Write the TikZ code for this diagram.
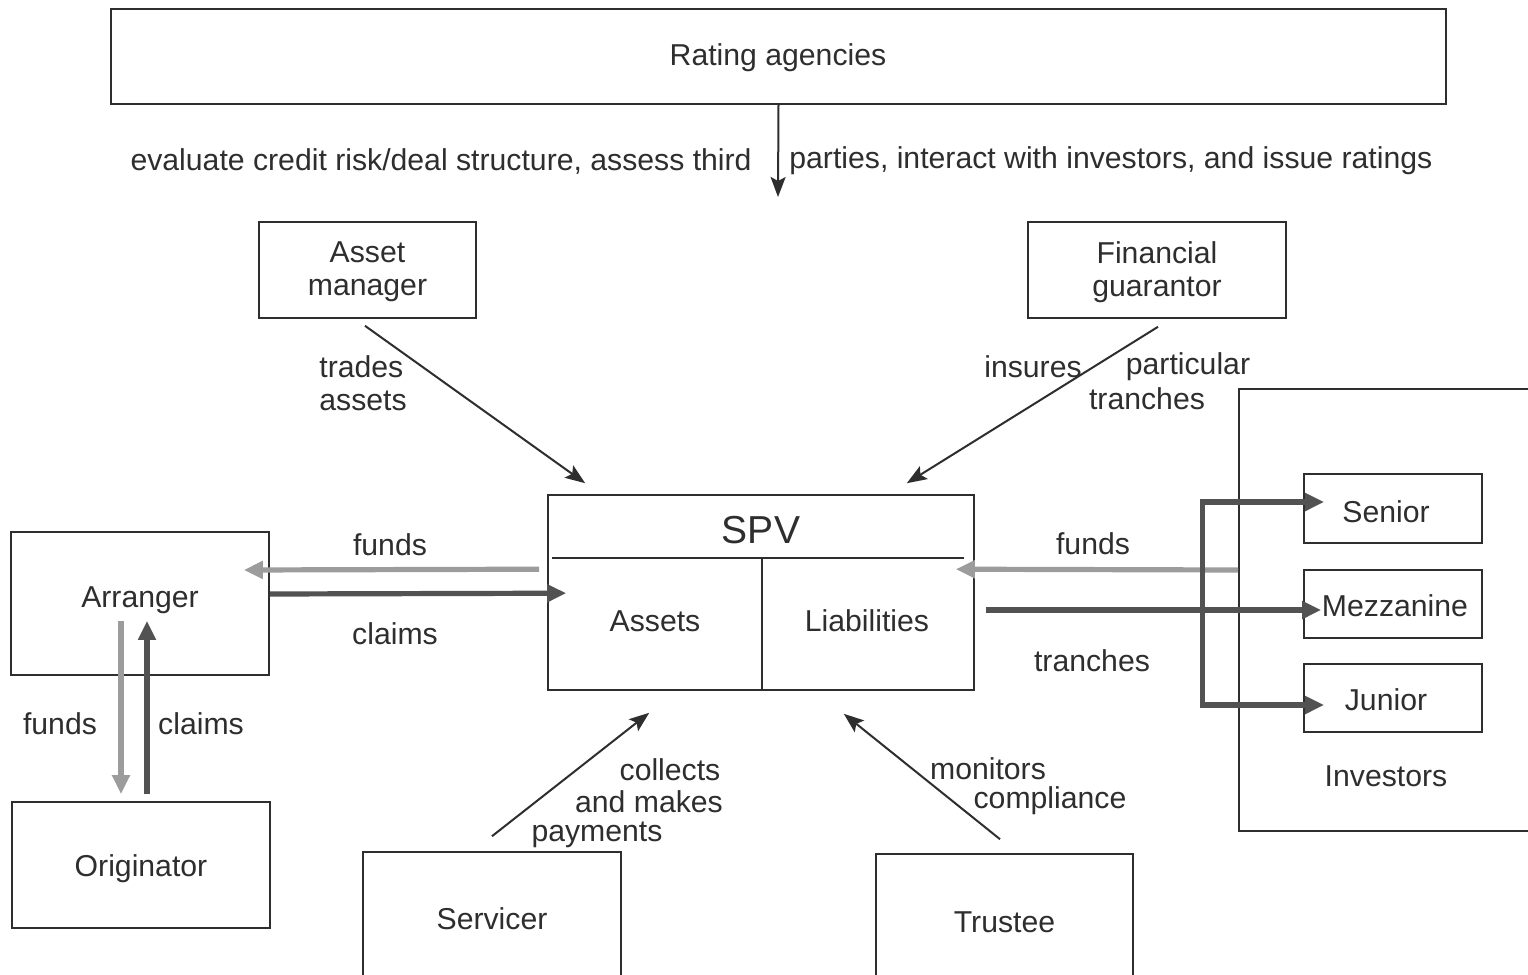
\documentclass[tikz,border=0pt]{standalone}
\usepackage{fontspec}
\setmainfont{Liberation Sans}
\usetikzlibrary{arrows.meta,calc}
\definecolor{ink}{HTML}{2E2E2E}
\definecolor{lightflow}{HTML}{9C9C9C}
\definecolor{darkflow}{HTML}{525252}
\begin{document}
\begin{tikzpicture}[x=0.5pt,y=-0.5pt,
  box/.style={draw=ink,line width=0.8pt,rectangle,inner sep=0pt,align=center,font=\fontsize{15.1}{16.5}\selectfont,text=ink},
  lbl/.style={inner sep=0pt,align=center,font=\fontsize{15.1}{16.5}\selectfont,text=ink,yshift=-1.5pt},
  thinarr/.style={draw=ink,line width=1pt,-{Stealth[length=10pt,width=7.5pt,inset=2pt]}},
  fundsarr/.style={draw=lightflow,line width=2.6pt,-{Triangle[length=9.5pt,width=8.5pt]}},
  claimsarr/.style={draw=darkflow,line width=2.6pt,-{Triangle[length=9.5pt,width=8.5pt]}},
  divider/.style={draw=ink,line width=0.8pt}
]
\useasboundingbox (0,0) rectangle (1528,975);
\fill[white] (0,0) rectangle (1528,975);

% boxes
\node[box,minimum width=667.5pt,minimum height=47.5pt] (ra) at (778.5,56.5) {};
\node[lbl] (ratxt) at (778,55) {Rating agencies};
\node[box,minimum width=108.5pt,minimum height=48pt] (am) at (367.5,270) {};
\node[lbl] (amtxt) at (367.5,269) {Asset\\manager};
\node[box,minimum width=129pt,minimum height=48pt] (fg) at (1157,270) {};
\node[lbl] (fgtxt) at (1157,269) {Financial\\guarantor};
\node[box,minimum width=213pt,minimum height=97.5pt] (spv) at (761,592.5) {};
\node[box,minimum width=129pt,minimum height=71.5pt] (arr) at (140,603.5) {};
\node[lbl] (arrtxt) at (140,597) {Arranger};
\node[box,minimum width=129pt,minimum height=63pt] (org) at (141,865) {};
\node[lbl] (orgtxt) at (141,866) {Originator};
\node[box,minimum width=129pt,minimum height=68pt] (sv) at (492,920) {};
\node[lbl] (svtxt) at (492,916) {Servicer};
\node[box,minimum width=128.5pt,minimum height=67pt] (tr) at (1004.5,921) {};
\node[lbl] (trtxt) at (1004.5,919) {Trustee};
\node[box,minimum width=150.5pt,minimum height=221pt] (inv) at (1389.5,610) {};
\node[lbl] (invtxt) at (1386,773) {Investors};
\node[box,minimum width=89pt,minimum height=34.5pt] (sen) at (1393,508.5) {};
\node[lbl] (sentxt) at (1386,509) {Senior};
\node[box,minimum width=89pt,minimum height=34pt] (mez) at (1393,604) {};
\node[lbl] (meztxt) at (1395,603) {Mezzanine};
\node[box,minimum width=89pt,minimum height=34pt] (jun) at (1393,698) {};
\node[lbl] (juntxt) at (1386,697) {Junior};

% SPV interior
\coordinate (spvL) at ($(spv.north west)+(5,64)$);
\coordinate (spvR) at ($(spv.north east)+(-11,64)$);
\coordinate (spvM) at ($(spv.south west)+(215,0)$);
\draw[divider] (spvL) -- (spvR);
\draw[divider] (spvM) -- (spvM |- spvL);
\node[lbl,font=\fontsize{19.5}{22}\selectfont] (spvtxt) at (761,527) {SPV};
\node[lbl] (assets) at (655,618) {Assets};
\node[lbl] (liab) at (867,618) {Liabilities};

% rating agencies arrow
\coordinate (raEnd) at (778,197);
\draw[thinarr] (ra.south) -- (raEnd);
\node[lbl,anchor=east] (raL) at (752,158) {evaluate credit risk/deal structure, assess third};
\node[lbl,anchor=west] (raR) at (789,158) {parties, interact with investors, and issue ratings};

% asset manager / guarantor arrows
\draw[thinarr] ($(am.south)+(-2.5,7)$) -- ($(spv.north west)+(38,-11)$);
\node[lbl,anchor=west,align=left] (trades) at (319,380) {trades\\assets};
\draw[thinarr] ($(fg.south)+(1,8)$) -- ($(spv.north east)+(-68,-11)$);
\node[lbl] (insures) at (1033,364) {insures};
\node[lbl] (partic) at (1188,364) {particular};
\node[lbl] (tranch1) at (1147,396) {tranches};

% servicer / trustee arrows
\draw[thinarr] ($(sv.north)+(0,-15)$) -- ($(spv.south west)+(102,22)$);
\node[lbl] (coll) at (670,767) {collects};
\node[lbl] (andm) at (649,799) {and makes};
\node[lbl] (paym) at (597,832) {payments};
\draw[thinarr] ($(tr.north)+(-4.5,-14)$) -- ($(spv.south east)+(-131,23)$);
\node[lbl] (monit) at (988,766) {monitors};
\node[lbl] (compl) at (1050,798) {compliance};

% arranger <-> SPV
\draw[fundsarr] ($(spv.north west)+(-8,75)$) -- ($(arr.east)+(-26,-33.5)$);
\draw[claimsarr] ($(arr.east)+(0,-9.5)$) -- ($(spv.north west)+(19,99)$);
\node[lbl] (fundsA) at (390,542) {funds};
\node[lbl] (claimsA) at (395,631) {claims};

% arranger <-> originator
\draw[fundsarr] ($(arr.south)+(-19,-55)$) -- ($(org.north)+(-20,-7)$);
\draw[claimsarr] ($(org.north)+(6,-7)$) -- ($(arr.south)+(7,-55)$);
\node[lbl] (fundsO) at (60,721) {funds};
\node[lbl] (claimsO) at (201,721) {claims};

% investors <-> SPV
\draw[fundsarr] ($(inv.west)+(0,-40)$) -- ($(spv.north east)+(-19,75)$);
\draw[claimsarr] ($(spv.east)+(11,17.5)$) -- ($(mez.west)+(18,6)$);
\draw[claimsarr,{Triangle[length=9.5pt,width=8.5pt]}-{Triangle[length=9.5pt,width=8.5pt]}]
  ($(sen.west)+(21,-6.5)$) -- ($(sen.west)+(-101,-6.5)$) -- ($(jun.west)+(-101,7)$) -- ($(jun.west)+(21,7)$);
\node[lbl] (fundsI) at (1093,541) {funds};
\node[lbl] (tranch2) at (1092,658) {tranches};
\end{tikzpicture}
\end{document}
